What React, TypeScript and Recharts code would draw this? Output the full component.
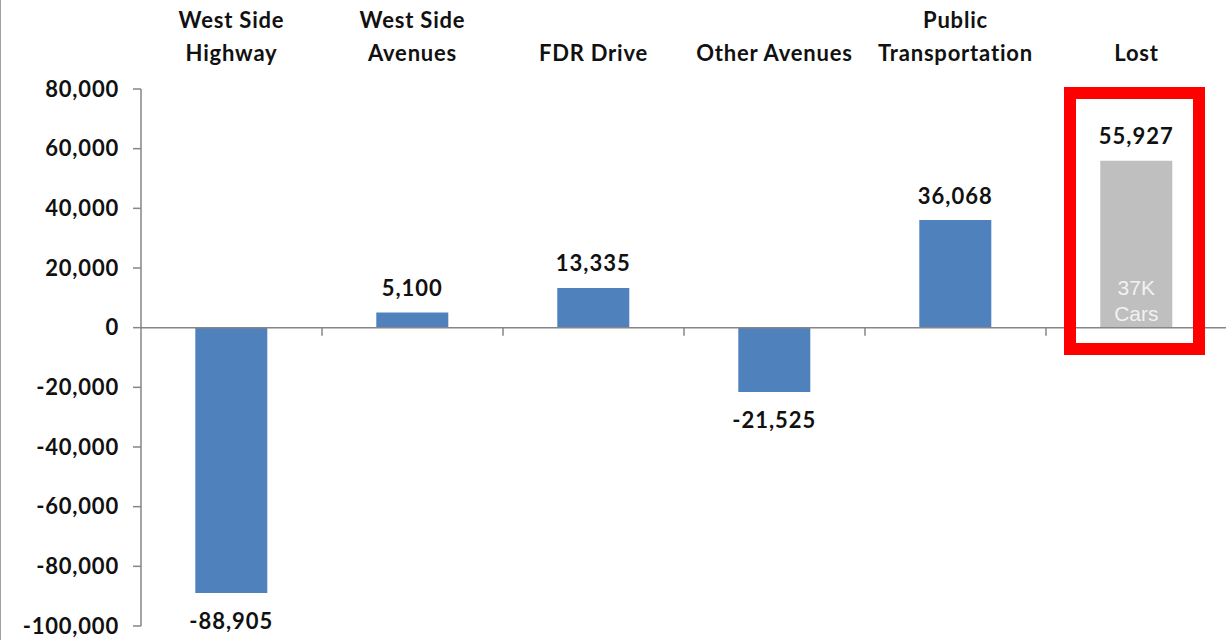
import { BarChart, Bar, XAxis, YAxis, Cell, LabelList, ReferenceLine } from "recharts";

const categories = ["West Side Highway", "West Side Avenues", "FDR Drive", "Other Avenues", "Public Transportation", "Lost"];
const categoryLines: string[][] = [
  ["West Side", "Highway"],
  ["West Side", "Avenues"],
  ["FDR Drive"],
  ["Other Avenues"],
  ["Public", "Transportation"],
  ["Lost"],
];
const values = [-88905, 5100, 13335, -21525, 36068, 55927];
const barColors = ["#4F81BD", "#4F81BD", "#4F81BD", "#4F81BD", "#4F81BD", "#BFBFBF"];
const yTicks = [-100000, -80000, -60000, -40000, -20000, 0, 20000, 40000, 60000, 80000];
const lostNote = ["37K", "Cars"];

const data = categories.map((name, i) => ({ name, value: values[i] }));

const FONT = "Lato, 'Open Sans', sans-serif";
const AXIS = "#868686";

const fmt = (v: number) => v.toLocaleString("en-US");

function CategoryTick(props: any) {
  const { x, payload } = props;
  const lines = categoryLines[payload.index] || [payload.value];
  const ys = lines.length === 2 ? [19, 52] : [52];
  return (
    <g>
      {lines.map((l, i) => (
        <text key={i} x={x} y={ys[i]} textAnchor="middle" dominantBaseline="central"
          fontFamily={FONT} fontWeight={700} fontSize={22} letterSpacing={0.8} fill="#111">
          {l}
        </text>
      ))}
    </g>
  );
}

function ValueLabel(props: any) {
  const { x, y, width, height, value, index } = props;
  const cx = x + width / 2;
  const neg = value < 0;
  const top = Math.min(y, y + height);
  const bottom = Math.max(y, y + height);
  const ly = neg ? bottom + 28 : top - 25;
  return (
    <g>
      <text x={cx} y={ly} textAnchor="middle" dominantBaseline="central"
        fontFamily={FONT} fontWeight={700} fontSize={22} letterSpacing={1} fill="#111">
        {fmt(value)}
      </text>
      {index === categories.length - 1 &&
        lostNote.map((t, i) => (
          <text key={i} x={cx} y={bottom - 40 + i * 26} textAnchor="middle" dominantBaseline="central"
            fontFamily="'Liberation Sans', Arial, sans-serif" fontSize={21} fill="#F2F2F2">
            {t}
          </text>
        ))}
    </g>
  );
}

function ZeroLine(props: any) {
  const { x1, x2, y1 } = props;
  const n = categories.length;
  const step = (x2 - x1) / n;
  const ticks = [];
  for (let i = 1; i < n; i++) ticks.push(x1 + step * i);
  return (
    <g>
      <line x1={x1} x2={x2} y1={y1} y2={y1} stroke={AXIS} strokeWidth={1.5} />
      {ticks.map((tx, i) => (
        <line key={i} x1={tx} x2={tx} y1={y1} y2={y1 + 8} stroke={AXIS} strokeWidth={1.5} />
      ))}
    </g>
  );
}

export default function App() {
  return (
    <div style={{ position: "absolute", left: 0, top: 0, width: 1226, height: 640, background: "#fff", overflow: "hidden" }}>
      <div style={{ position: "absolute", left: 0, top: 0, width: 1, height: 640, background: "#A0A0A0" }} />
      <BarChart width={1227} height={640} data={data} barCategoryGap="30%"
        margin={{ top: 0, right: 0, bottom: 14, left: 0 }}>
        <XAxis dataKey="name" orientation="top" height={89} axisLine={false} tickLine={false}
          tick={<CategoryTick />} interval={0} />
        <YAxis domain={[-100000, 80000]} ticks={yTicks} width={141} tickFormatter={fmt}
          axisLine={{ stroke: AXIS, strokeWidth: 1.5 }} tickLine={{ stroke: AXIS, strokeWidth: 1.5 }}
          tickSize={8} tickMargin={14}
          tick={{ fontFamily: FONT, fontWeight: 700, fontSize: 22, letterSpacing: 0.8, fill: "#111" }} />
        <ReferenceLine y={0} shape={<ZeroLine />} />
        <Bar dataKey="value" isAnimationActive={false}>
          {data.map((_, i) => (
            <Cell key={i} fill={barColors[i]} />
          ))}
          <LabelList dataKey="value" content={<ValueLabel />} />
        </Bar>
      </BarChart>
      <div style={{ position: "absolute", left: 1064, top: 87, width: 141, height: 268, border: "12px solid #FF0000", boxSizing: "border-box" }} />
    </div>
  );
}
